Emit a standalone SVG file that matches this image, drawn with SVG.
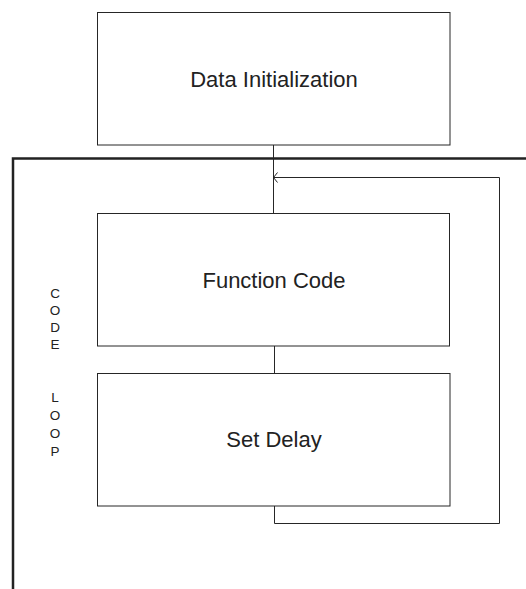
<svg xmlns="http://www.w3.org/2000/svg" width="526" height="589" viewBox="0 0 526 589">
<style>
.box{fill:#fff;stroke:#262626;stroke-width:1}
.lbl{font-family:"Liberation Sans",Arial,sans-serif;font-size:22px;fill:#222;text-anchor:middle}
.vt{font-family:"Liberation Sans",Arial,sans-serif;font-size:13.5px;fill:#222;text-anchor:middle}
.ln{fill:none;stroke:#262626;stroke-width:1}
.frame{fill:none;stroke:#222;stroke-width:2.5}
</style>
<defs>
<marker id="open" markerWidth="8" markerHeight="12" refX="5" refY="6" orient="auto" markerUnits="userSpaceOnUse">
<path d="M1,1 L5,6 L1,11" fill="none" stroke="#262626" stroke-width="1"/>
</marker>
</defs>
<rect width="526" height="589" fill="#fff"/>
<g id="frame">
<path class="frame" d="M13,589 L13,158.5 L526,158.5"/>
<g id="frame-label">
<text class="vt" x="55" y="298">C</text>
<text class="vt" x="55" y="315">O</text>
<text class="vt" x="55" y="332">D</text>
<text class="vt" x="55" y="349">E</text>
<text class="vt" x="55" y="402">L</text>
<text class="vt" x="55" y="420">O</text>
<text class="vt" x="55" y="438">O</text>
<text class="vt" x="55" y="456">P</text>
</g>
</g>
<g id="connectors">
<path class="ln" d="M273.5,145 L273.5,213.5"/>
<path class="ln" d="M274.5,346 L274.5,373"/>
<path class="ln" d="M274.5,502 L274.5,523.5 L499.5,523.5 L499.5,177.5 L273.5,177.5" marker-end="url(#open)"/>
</g>
<g id="node-data-init">
<rect class="box" x="97.5" y="12.5" width="352.5" height="132.5"/>
<text class="lbl" x="274" y="87">Data Initialization</text>
</g>
<g id="node-function-code">
<rect class="box" x="97.5" y="213.5" width="352" height="132.5"/>
<text class="lbl" x="274" y="288">Function Code</text>
</g>
<g id="node-set-delay">
<rect class="box" x="97.5" y="373.5" width="352.5" height="132.5"/>
<text class="lbl" x="274" y="447">Set Delay</text>
</g>
</svg>
